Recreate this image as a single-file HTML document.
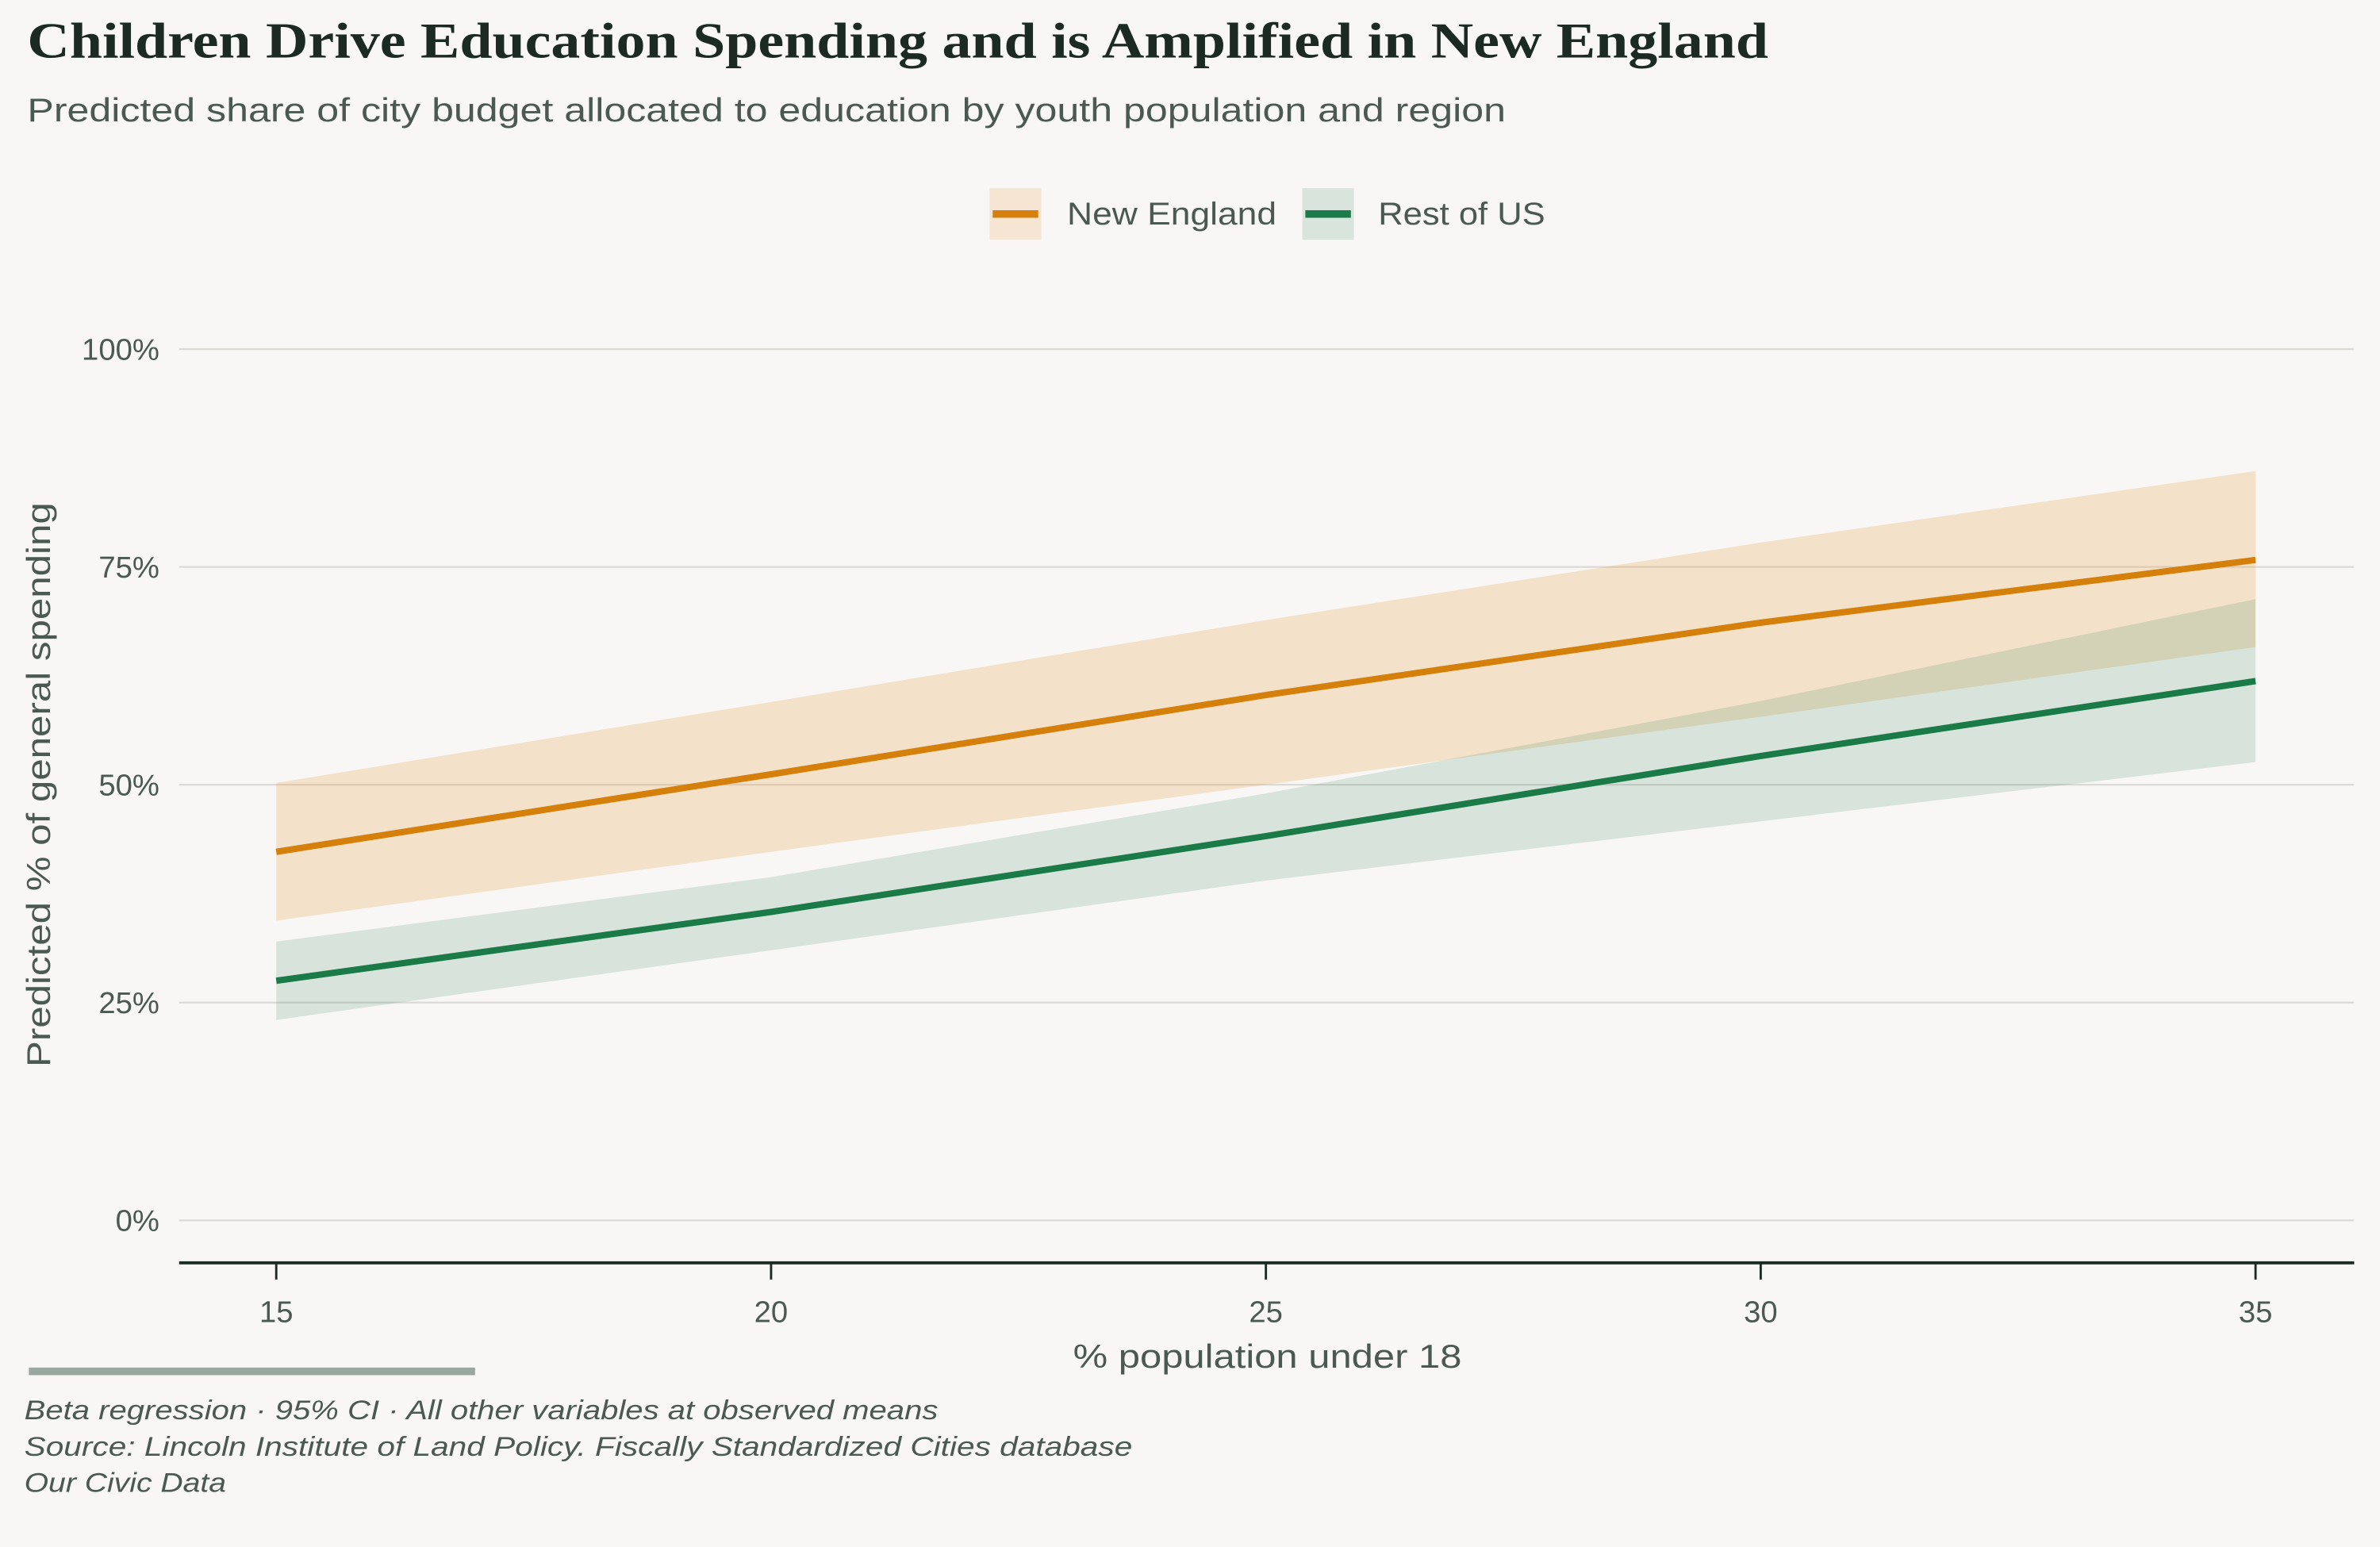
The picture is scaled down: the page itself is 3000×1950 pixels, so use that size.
<!DOCTYPE html>
<html><head><meta charset="utf-8"><style>
html,body{margin:0;padding:0;background:#f9f7f5;}
svg{display:block;}
text{font-family:"Liberation Sans",sans-serif;}
</style></head><body>
<svg id="chart" width="3000" height="1950" viewBox="0 0 1568 1019.2" xmlns="http://www.w3.org/2000/svg">
<rect width="1568" height="1019.2" fill="#f9f7f5"/>
<text x="18" y="38" font-weight="bold" font-size="33" fill="#1b2b24" textLength="1147" lengthAdjust="spacingAndGlyphs" style="font-family:'Liberation Serif',serif">Children Drive Education Spending and is Amplified in New England</text>
<text x="18" y="80" font-size="22" fill="#4a5a52" textLength="974" lengthAdjust="spacingAndGlyphs">Predicted share of city budget allocated to education by youth population and region</text>
<g>
 <g>
  <rect x="652" y="124" width="34" height="34" fill="#f5e5d2"/>
  <line x1="654" y1="141" x2="684" y2="141" stroke="#d4800a" stroke-width="5"/>
  <text x="703" y="148" font-size="21" fill="#4a5a52" textLength="138" lengthAdjust="spacingAndGlyphs">New England</text>
 </g>
 <g>
  <rect x="858" y="124" width="34" height="34" fill="#d8e4dc"/>
  <line x1="860" y1="141" x2="890" y2="141" stroke="#1a7a48" stroke-width="5"/>
  <text x="908" y="148" font-size="21" fill="#4a5a52" textLength="110" lengthAdjust="spacingAndGlyphs">Rest of US</text>
 </g>
</g>
<g id="grid"></g>
<g id="bands"></g>
<g id="lines"></g>
<g id="xaxis"></g>
<text x="835" y="901" text-anchor="middle" font-size="22" fill="#4a5a52" textLength="256" lengthAdjust="spacingAndGlyphs">% population under 18</text>
<text transform="translate(33,517) rotate(-90)" text-anchor="middle" font-size="22" fill="#4a5a52" textLength="372" lengthAdjust="spacingAndGlyphs">Predicted % of general spending</text>
<rect x="19" y="901" width="294" height="5" fill="#98a89e"/>
<g font-size="18" font-style="italic" fill="#4a5a52">
 <text x="16" y="935" textLength="602" lengthAdjust="spacingAndGlyphs">Beta regression · 95% CI · All other variables at observed means</text>
 <text x="16" y="959" textLength="730" lengthAdjust="spacingAndGlyphs">Source: Lincoln Institute of Land Policy. Fiscally Standardized Cities database</text>
 <text x="16" y="983" textLength="133" lengthAdjust="spacingAndGlyphs">Our Civic Data</text>
</g>
</svg>
<script>
const xVals = [15, 20, 25, 30, 35];
const neFit = [42.3, 51.2, 60.3, 68.6, 75.8];
const neLow = [34.4, 42.3, 50.0, 57.8, 65.8];
const neHigh = [50.2, 59.5, 68.9, 77.8, 86.0];
const usFit = [27.5, 35.4, 44.1, 53.3, 61.9];
const usLow = [23.0, 31.0, 39.0, 45.8, 52.6];
const usHigh = [32.0, 39.4, 49.0, 59.6, 71.3];
const yTicks = [0, 25, 50, 75, 100];
const yTickLabels = ["0%", "25%", "50%", "75%", "100%"];
const xTicks = [15, 20, 25, 30, 35];
const xTickLabels = ["15", "20", "25", "30", "35"];

const NS = "http://www.w3.org/2000/svg";
const X = v => 182 + (v - 15) * (1486 - 182) / 20;
const Y = v => 804 - v * (804 - 230) / 100;
function mk(tag, attrs, parent) {
  const e = document.createElementNS(NS, tag);
  for (const k in attrs) e.setAttribute(k, attrs[k]);
  parent.appendChild(e);
  return e;
}
const grid = document.getElementById('grid');
yTicks.forEach((t, i) => {
  const l = mk('line', {x1: 118, x2: 1551, y1: Y(t), y2: Y(t), stroke: '#dcdad7', 'stroke-width': 1.2}, grid);
  
  
  const tx = mk('text', {x: 105, y: Y(t) + 7, 'text-anchor': 'end', 'font-size': 20, fill: '#4a5a52'}, grid);
  tx.textContent = yTickLabels[i];
  
  
});
const bands = document.getElementById('bands');
function band(lo, hi, fill, name) {
  let d = xVals.map((x, i) => (i ? 'L' : 'M') + X(x) + ',' + Y(hi[i])).join(' ');
  for (let i = xVals.length - 1; i >= 0; i--) d += ' L' + X(xVals[i]) + ',' + Y(lo[i]);
  const p = mk('path', {d: d + ' Z', fill: fill}, bands);
  
  
}
band(neLow, neHigh, 'rgba(230,160,70,0.25)', 'ci-band-new-england');
band(usLow, usHigh, 'rgba(26,122,72,0.15)', 'ci-band-rest-of-us');
const lines = document.getElementById('lines');
function line(vals, color, name) {
  const d = xVals.map((x, i) => (i ? 'L' : 'M') + X(x) + ',' + Y(vals[i])).join(' ');
  const p = mk('path', {d: d, fill: 'none', stroke: color, 'stroke-width': 4.2, 'stroke-linejoin': 'round'}, lines);
  
  
}
line(neFit, '#d4800a', 'line-new-england');
line(usFit, '#1a7a48', 'line-rest-of-us');
const xa = document.getElementById('xaxis');
const ax = mk('line', {x1: 118, x2: 1551, y1: 832, y2: 832, stroke: '#1b2b24', 'stroke-width': 2}, xa);


xTicks.forEach((t, i) => {
  const tk = mk('line', {x1: X(t), x2: X(t), y1: 832, y2: 843, stroke: '#1b2b24', 'stroke-width': 1.5}, xa);
  
  
  const tx = mk('text', {x: X(t), y: 871, 'text-anchor': 'middle', 'font-size': 20, fill: '#4a5a52'}, xa);
  tx.textContent = xTickLabels[i];
  
  
});
</script>
</body></html>
